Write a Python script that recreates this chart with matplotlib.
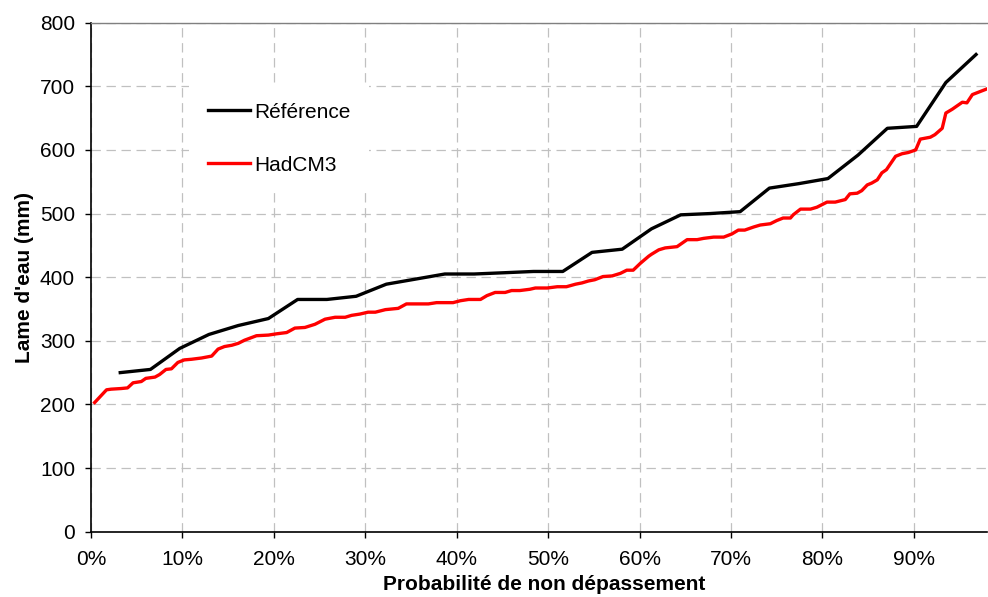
import numpy as np
import matplotlib
matplotlib.use("Agg")
import matplotlib.pyplot as plt
from matplotlib.ticker import PercentFormatter

plt.rcParams['font.family'] = ['Liberation Sans', 'DejaVu Sans']

# Référence: 30 sorted annual values, non-exceedance probability (%)
ref_prob = [3.2, 6.5, 9.7, 12.9, 16.1, 19.4, 22.6, 25.8, 29.0, 32.3,
            35.5, 38.7, 41.9, 45.2, 48.4, 51.6, 54.8, 58.1, 61.3, 64.5,
            67.7, 71.0, 74.2, 77.4, 80.6, 83.9, 87.1, 90.3, 93.5, 96.8]
ref_val = [250, 255, 288, 310, 324, 335, 365, 365, 370, 389,
           397, 405, 405, 407, 409, 409, 439, 444, 476, 498,
           500, 503, 540, 547, 555, 592, 634, 637, 706, 750]

# HadCM3
had_prob = [0.4, 1.7, 2.2, 3.3, 4.0, 4.6, 5.5, 6.0, 7.0, 7.5,
            8.2, 8.8, 9.5, 10.2, 11.0, 12.1, 13.2, 13.9, 14.6, 15.4,
            16.1, 16.8, 18.1, 19.4, 20.3, 21.4, 22.3, 23.4, 24.5, 25.6,
            26.7, 27.8, 28.5, 29.4, 30.3, 31.1, 32.2, 33.6, 34.5, 35.6,
            36.9, 37.8, 39.6, 40.4, 41.3, 42.6, 43.3, 44.2, 45.3, 46.0,
            46.9, 48.0, 48.6, 49.9, 51.0, 52.0, 53.0, 53.7, 54.4, 55.1,
            56.0, 57.0, 57.9, 58.6, 59.3, 60.1, 61.0, 61.3, 62.1, 62.8,
            64.1, 65.2, 66.3, 67.0, 68.1, 69.2, 70.1, 70.8, 71.5, 72.5,
            73.2, 74.3, 75.0, 75.7, 76.5, 76.8, 77.6, 78.7, 79.4, 80.5,
            81.4, 82.5, 83.0, 83.8, 84.3, 84.9, 85.4, 86.0, 86.5, 87.0,
            88.0, 88.7, 89.4, 90.2, 90.7, 91.8, 92.3, 93.1, 93.5, 94.2,
            95.3, 95.8, 96.4, 98.0]
had_val = [203, 223, 224, 225, 226, 234, 236, 241, 243, 247,
           255, 256, 266, 270, 271, 273, 276, 287, 291, 293,
           296, 301, 308, 309, 311, 313, 320, 321, 326, 334,
           337, 337, 340, 342, 345, 345, 349, 351, 358, 358,
           358, 360, 360, 363, 365, 365, 371, 376, 376, 379,
           379, 381, 383, 383, 385, 385, 389, 391, 394, 396,
           401, 402, 406, 411, 411, 422, 433, 436, 443, 446,
           448, 459, 459, 461, 463, 463, 468, 474, 474, 479,
           482, 484, 489, 493, 493, 498, 507, 507, 510, 518,
           518, 522, 531, 532, 536, 545, 548, 553, 564, 569,
           590, 594, 596, 600, 617, 620, 624, 634, 658, 664,
           675, 674, 687, 696]

fig = plt.figure(figsize=(9.88, 5.97), dpi=100)
ax = fig.add_axes([0.0921, 0.1094, 0.9069, 0.8526])

ax.plot(np.array(ref_prob) / 100, ref_val, color='black', lw=2.4,
        label='Référence', zorder=3)
ax.plot(np.array(had_prob) / 100, had_val, color='#ff0000', lw=2.4,
        label='HadCM3', zorder=3)

ax.set_xlim(0, 0.98)
ax.set_ylim(0, 800)
ax.set_xticks(np.arange(0, 0.91, 0.1))
ax.set_yticks(np.arange(0, 801, 100))
ax.xaxis.set_major_formatter(PercentFormatter(1.0, decimals=0))

ax.grid(True, color='#c0c0c0', lw=0.9, linestyle=(0, (7.5, 4.5)))
ax.set_axisbelow(True)

ax.spines['right'].set_visible(False)
ax.spines['top'].set_color('#808080')
ax.spines['top'].set_linewidth(1.0)
ax.spines['left'].set_linewidth(1.2)
ax.spines['bottom'].set_linewidth(1.2)

ax.tick_params(axis='both', labelsize=15, direction='out', length=4.5, width=1)
ax.tick_params(axis='x', pad=9)
ax.tick_params(axis='y', pad=7)

ax.set_xlabel('Probabilité de non dépassement', fontsize=15, fontweight='bold')
ax.xaxis.set_label_coords(0.506, -0.086)
ax.set_ylabel("Lame d'eau (mm)", fontsize=15, fontweight='bold')
ax.yaxis.set_label_coords(-0.064, 0.5)

leg = ax.legend(loc='upper left', bbox_to_anchor=(0.098, 0.900), fontsize=15,
                frameon=True, facecolor='white', edgecolor='none', framealpha=1,
                fancybox=False, handlelength=2.0, handletextpad=0.2,
                labelspacing=1.62, borderpad=0.9)

fig.savefig('out.png', dpi=100)
